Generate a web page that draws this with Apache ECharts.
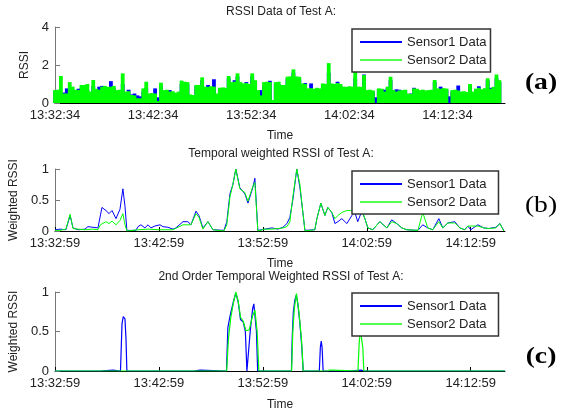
<!DOCTYPE html>
<html>
<head>
<meta charset="utf-8">
<script src="https://cdn.jsdelivr.net/npm/echarts@6/dist/echarts.min.js"></script>
<style>
  html, body { margin: 0; padding: 0; background: #fff; }
  #chart { width: 562px; height: 412px; }
</style>
</head>
<body>
<div id="chart"></div>
<script>
// (a) raw RSSI, one sample every 18 s from 13:32:34
let stepA = 18;
let sensor1A = [
  0.6, 0.62, 0.5, 0.55, 0.77, 0.8, 0.7, 0.6, 0.75, 0.8,
  0.85, 0.7, 0.55, 0.9, 0.7, 0.86, 0.9, 0.8, 0.7, 1.15,
  0.8, 0.6, 0.65, 1.0, 0.5, 0.7, 0.45, 0.5, 0.4, 0.35,
  0.6, 0.8, 0.45, 0.5, 0.77, 0.3, 0.9, 0.6, 0.65, 0.68,
  0.55, 0.5, 0.5, 1.0, 1.0, 1.0, 0.4, 0.35, 0.9, 0.85,
  1.2, 0.8, 0.95, 0.8, 1.25, 0.45, 0.75, 0.7, 0.75, 1.3,
  1.0, 1.2, 1.4, 1.0, 0.95, 1.1, 0.9, 1.4, 1.1, 0.5,
  0.68, 0.9, 1.0, 1.17, 0.1, 1.0, 1.0, 0.9, 0.85, 1.3,
  1.3, 1.6, 1.3, 1.25, 0.95, 1.05, 0.7, 1.03, 0.7, 0.75,
  0.7, 0.95, 0.9, 1.6, 0.95, 0.9, 1.12, 0.9, 0.8, 0.8,
  0.8, 0.8, 1.3, 0.8, 0.8, 1.5, 0.6, 0.65, 0.6, 0.3,
  0.7, 0.72, 0.7, 0.8, 1.2, 0.62, 0.72, 0.7, 0.6, 0.65,
  0.45, 0.5, 0.8, 0.7, 0.6, 0.65, 0.6, 0.6, 0.65, 1.1,
  0.7, 0.86, 0.7, 0.7, 0.35, 0.6, 0.65, 0.92, 0.55, 0.55,
  0.5, 0.9, 0.55, 0.7, 0.88, 0.65, 0.7, 1.2, 0.8, 0.8,
  1.3, 1.1
];
let sensor2A = [
  0.68, 0.7, 1.42, 0.5, 0.5, 1.1, 0.86, 0.7, 0.68, 0.95,
  0.95, 1.0, 0.6, 1.21, 0.75, 0.7, 0.86, 0.9, 0.85, 0.86,
  0.9, 0.68, 0.7, 1.56, 0.6, 0.62, 0.42, 0.4, 0.25, 0.25,
  0.77, 1.12, 0.5, 0.52, 0.5, 0.1, 1.07, 0.68, 0.7, 0.6,
  0.62, 0.55, 0.6, 1.18, 1.12, 1.1, 0.45, 0.42, 0.95, 0.95,
  1.35, 0.86, 0.85, 0.88, 0.86, 0.5, 0.8, 0.82, 0.8, 1.42,
  1.1, 1.12, 1.56, 1.1, 1.03, 1.05, 1.0, 1.56, 1.2, 0.68,
  0.4, 1.1, 1.12, 1.1, 0.16, 1.1, 1.12, 0.95, 0.95, 1.39,
  1.4, 1.77, 1.4, 1.38, 1.03, 1.0, 0.77, 0.78, 0.75, 0.8,
  0.77, 1.03, 1.0, 2.1, 1.03, 1.0, 1.05, 1.0, 0.86, 0.85,
  0.88, 0.86, 1.65, 0.86, 0.85, 1.47, 0.68, 0.7, 0.66, 0.0,
  0.77, 0.75, 0.6, 0.86, 1.38, 0.68, 0.6, 0.66, 0.68, 0.7,
  0.5, 0.48, 0.77, 0.75, 0.68, 0.7, 0.66, 0.68, 0.7, 1.21,
  0.77, 0.75, 0.78, 0.76, 0.0, 0.68, 0.7, 0.66, 0.6, 0.62,
  0.58, 1.0, 0.6, 0.75, 0.8, 0.72, 0.78, 1.3, 0.75, 0.85,
  1.5, 1.2
];

// (b) temporal weighted RSSI, seconds after 13:32:59
let timeB1 = [0, 29, 63, 87, 104, 133, 173, 190, 219, 248, 271, 294, 312, 329, 352, 375, 392, 404, 415, 467,
  479, 496, 519, 537, 554, 577, 606, 623, 652, 681, 698, 739, 767, 785, 814, 831, 854, 883, 912, 975,
  992, 1010, 1027, 1044, 1067, 1096, 1114, 1142, 1154, 1171, 1212, 1252, 1287, 1316, 1339, 1356, 1373, 1396, 1414, 1431,
  1443, 1500, 1512, 1535, 1558, 1575, 1598, 1616, 1633, 1656, 1685, 1714, 1731, 1748, 1771, 1789, 1806, 1835, 1875, 1916,
  1944, 1973, 2002, 2031, 2095, 2123, 2152, 2181, 2216, 2239, 2268, 2308, 2337, 2366, 2383, 2400, 2441, 2475, 2504, 2545,
  2568, 2591];
let sensor1B = [0.02, 0.03, 0.02, 0.25, 0.05, 0.02, 0.03, 0.07, 0.06, 0.05, 0.38, 0.33, 0.28, 0.33, 0.2, 0.35, 0.68, 0.4, 0.01, 0.01,
  0.07, 0.1, 0.05, 0.1, 0.05, 0.08, 0.1, 0.07, 0.06, 0.03, 0.05, 0.15, 0.15, 0.1, 0.32, 0.25, 0.05, 0.15, 0.02, 0.01,
  0.15, 0.6, 0.75, 1.0, 0.7, 0.6, 0.45, 0.7, 0.85, 0.01, 0.03, 0.05, 0.03, 0.06, 0.12, 0.22, 0.5, 1.0, 0.7, 0.3,
  0.01, 0.02, 0.2, 0.45, 0.25, 0.38, 0.3, 0.12, 0.15, 0.2, 0.12, 0.25, 0.3, 0.15, 0.32, 0.2, 0.05, 0.02, 0.15, 0.05,
  0.18, 0.12, 0.05, 0.02, 0.01, 0.1, 0.05, 0.02, 0.2, 0.05, 0.13, 0.15, 0.05, 0.02, 0.08, 0.02, 0.1, 0.05, 0.04, 0.06,
  0.12, 0.01];
let timeB2 = [0, 29, 63, 87, 104, 133, 173, 219, 248, 262, 294, 312, 329, 352, 375, 392, 404, 415, 479, 537,
  606, 681, 739, 767, 785, 814, 831, 854, 883, 912, 975, 992, 1010, 1027, 1044, 1067, 1096, 1114, 1142, 1154,
  1171, 1212, 1252, 1287, 1316, 1339, 1356, 1373, 1396, 1414, 1431, 1443, 1500, 1512, 1535, 1558, 1575, 1598, 1616, 1633,
  1656, 1685, 1714, 1731, 1748, 1771, 1789, 1806, 1835, 1875, 1916, 1944, 1973, 2002, 2031, 2095, 2123, 2152, 2181, 2216,
  2239, 2268, 2308, 2337, 2366, 2383, 2441, 2475, 2504, 2545, 2568, 2591];
let sensor2B = [0.01, 0.01, 0.03, 0.27, 0.04, 0.03, 0.02, 0.03, 0.02, 0.1, 0.15, 0.12, 0.16, 0.1, 0.17, 0.28, 0.1, 0.0, 0.02, 0.03,
  0.02, 0.02, 0.1, 0.1, 0.1, 0.28, 0.22, 0.03, 0.15, 0.02, 0.0, 0.1, 0.55, 0.75, 1.0, 0.68, 0.62, 0.48, 0.72, 0.78,
  0.0, 0.03, 0.03, 0.04, 0.05, 0.07, 0.15, 0.55, 1.0, 0.75, 0.3, 0.0, 0.02, 0.2, 0.45, 0.25, 0.38, 0.3, 0.2, 0.25,
  0.3, 0.33, 0.33, 0.35, 0.3, 0.35, 0.2, 0.05, 0.02, 0.15, 0.05, 0.15, 0.12, 0.05, 0.02, 0.01, 0.3, 0.05, 0.02, 0.15,
  0.05, 0.13, 0.13, 0.05, 0.02, 0.08, 0.08, 0.05, 0.04, 0.05, 0.12, 0.0];

// (c) 2nd order temporal weighted RSSI, seconds after 13:32:59
let timeC1 = [0, 260, 271, 335, 346, 378, 387, 394, 404, 410, 415, 802, 811, 837, 842, 990, 998, 1010, 1029, 1044,
  1058, 1071, 1087, 1099, 1108, 1119, 1127, 1141, 1148, 1163, 1170, 1365, 1370, 1376, 1385, 1393, 1402, 1414, 1425, 1433,
  1526, 1532, 1537, 1542, 1548, 1691, 1696, 1771, 1783, 2598];
let sensor1C = [0, 0, 0.012, 0.012, 0, 0, 0.6, 0.69, 0.66, 0.4, 0, 0, 0.012, 0.012, 0, 0, 0.55, 0.69, 0.87, 0.99,
  0.87, 0.65, 0.62, 0.5, 0, 0, 0.5, 0.79, 0.85, 0.5, 0, 0, 0.45, 0.75, 0.9, 0.96, 0.85, 0.6, 0.3, 0,
  0, 0.3, 0.38, 0.3, 0, 0, 0.01, 0.01, 0, 0];
let timeC2 = [0, 991, 1001, 1015, 1029, 1044, 1058, 1071, 1087, 1102, 1121, 1141, 1154, 1167, 1177, 1366, 1373, 1382, 1394, 1408,
  1423, 1433, 1575, 1587, 1604, 1610, 1749, 1756, 1763, 1771, 1777, 1783, 2118, 2123, 2129, 2598];
let sensor2C = [0, 0, 0.4, 0.68, 0.85, 1.0, 0.88, 0.68, 0.63, 0.51, 0.52, 0.7, 0.77, 0.5, 0, 0, 0.5, 0.8, 0.98, 0.75,
  0.4, 0, 0, 0.012, 0.012, 0, 0, 0.35, 0.52, 0.52, 0.3, 0, 0, 0.006, 0, 0];

let startA = 13 * 3600 + 32 * 60 + 34;
let startB = 13 * 3600 + 32 * 60 + 59;
let names = ['Sensor1 Data', 'Sensor2 Data'];
let blue = '#0000ff';
let green = '#00ff00';
let font = 'Liberation Sans';

function pad(n) { return n < 10 ? '0' + n : '' + n; }
function clock(base) {
    return function (v) {
        let s = base + Math.round(v);
        return Math.floor(s / 3600) + ':' + pad(Math.floor(s % 3600 / 60)) + ':' + pad(s % 60);
    };
}
function pairs(t, v) {
    let out = [];
    t.forEach((x, i) => out.push([x, v[i]]));
    return out;
}

function xAxis(idx, max, base, gap) {
    return {
        gridIndex: idx, type: 'value', min: 0, max: max, interval: 600,
        axisLine: { lineStyle: { color: '#000', width: 1 } },
        axisTick: { inside: true, length: 4, lineStyle: { color: '#000' } },
        axisLabel: { formatter: clock(base), fontSize: 13, color: '#222', margin: 6, showMaxLabel: false, fontFamily: font },
        splitLine: { show: false },
        name: 'Time', nameLocation: 'middle', nameGap: gap,
        nameTextStyle: { fontSize: 12, color: '#222', fontFamily: font }
    };
}
function yAxis(idx, max, interval, name, gap) {
    return {
        gridIndex: idx, type: 'value', min: 0, max: max, interval: interval,
        axisLine: { show: true, lineStyle: { color: '#777' } },
        axisTick: { show: true, inside: true, length: 5, lineStyle: { color: '#777' } },
        axisLabel: { fontSize: 13, color: '#222', margin: 6, fontFamily: font },
        splitLine: { show: false },
        name: name, nameLocation: 'middle', nameRotate: 90, nameGap: gap,
        nameTextStyle: { fontSize: 12, color: '#222', fontFamily: font }
    };
}
function legend(top, padRight) {
    return {
        orient: 'vertical', left: 352, top: top,
        padding: [6, padRight, 5, 8], itemGap: 4,
        itemWidth: 42, itemHeight: 2, icon: 'rect',
        backgroundColor: '#fff', borderColor: '#333', borderWidth: 1.5, borderRadius: 0,
        textStyle: { fontSize: 13, color: '#222', fontFamily: font, lineHeight: 14 },
        data: [
            { name: names[0], itemStyle: { color: blue } },
            { name: names[1], itemStyle: { color: '#55ff55' } }
        ]
    };
}
// panel tags on the right, serif and a little wide
function tag(text, y, bold) {
    return {
        type: 'text', x: 541, y: y, z: 10, scaleX: 1.2,
        style: {
            text: text, fill: '#000', textAlign: 'center', textVerticalAlign: 'middle',
            font: (bold ? 'bold ' : '') + '23px "Liberation Serif"'
        }
    };
}
function titleAt(text, top) {
    return {
        text: text, left: 'center', top: top, padding: 0,
        textStyle: { fontSize: 12, fontWeight: 'normal', color: '#222', fontFamily: font }
    };
}

var myChart = echarts.init(document.getElementById('chart'), null, { renderer: 'canvas' });

let option = {
    backgroundColor: '#fff',
    animation: false,
    title: [
        titleAt('RSSI Data of Test A:', 6),
        titleAt('Temporal weighted RSSI of Test A:', 148),
        titleAt('2nd Order Temporal Weighted RSSI of Test A:', 271)
    ],
    grid: [
        { left: 55, top: 27, width: 450, height: 76 },
        { left: 55, top: 169, width: 450, height: 62 },
        { left: 55, top: 292, width: 450, height: 84 }
    ],
    xAxis: [
        xAxis(0, 2752, startA, 27),
        xAxis(1, 2598, startB, 27),
        xAxis(2, 2598, startB, 28)
    ],
    yAxis: [
        yAxis(0, 4, 2, 'RSSI', 18),
        yAxis(1, 1, 0.5, 'Weighted RSSI', 30),
        yAxis(2, 1, 0.5, 'Weighted RSSI', 30)
    ],
    legend: [legend(29, 4), legend(171, 12), legend(293, 12)],
    graphic: [tag('(a)', 83, true), tag('(b)', 206, false), tag('(c)', 357, true)],
    series: [
        {
            name: names[0], type: 'bar', xAxisIndex: 0, yAxisIndex: 0,
            barWidth: 3.8, barGap: '-100%', itemStyle: { color: blue },
            data: sensor1A.map((v, i) => [i * stepA, v])
        },
        {
            name: names[1], type: 'bar', xAxisIndex: 0, yAxisIndex: 0,
            barWidth: 3.8, barGap: '-100%', itemStyle: { color: green },
            data: sensor2A.map((v, i) => [i * stepA, v])
        },
        {
            name: names[0], type: 'line', xAxisIndex: 1, yAxisIndex: 1, symbol: 'none',
            lineStyle: { color: blue, width: 1 }, itemStyle: { color: blue },
            data: pairs(timeB1, sensor1B)
        },
        {
            name: names[1], type: 'line', xAxisIndex: 1, yAxisIndex: 1, symbol: 'none',
            lineStyle: { color: green, width: 1 }, itemStyle: { color: green },
            data: pairs(timeB2, sensor2B)
        },
        {
            name: names[0], type: 'line', xAxisIndex: 2, yAxisIndex: 2, symbol: 'none',
            lineStyle: { color: blue, width: 1.2 }, itemStyle: { color: blue },
            data: pairs(timeC1, sensor1C)
        },
        {
            name: names[1], type: 'line', xAxisIndex: 2, yAxisIndex: 2, symbol: 'none',
            lineStyle: { color: green, width: 1.2 }, itemStyle: { color: green },
            data: pairs(timeC2, sensor2C)
        }
    ]
};

myChart.setOption(option);
</script>
</body>
</html>
